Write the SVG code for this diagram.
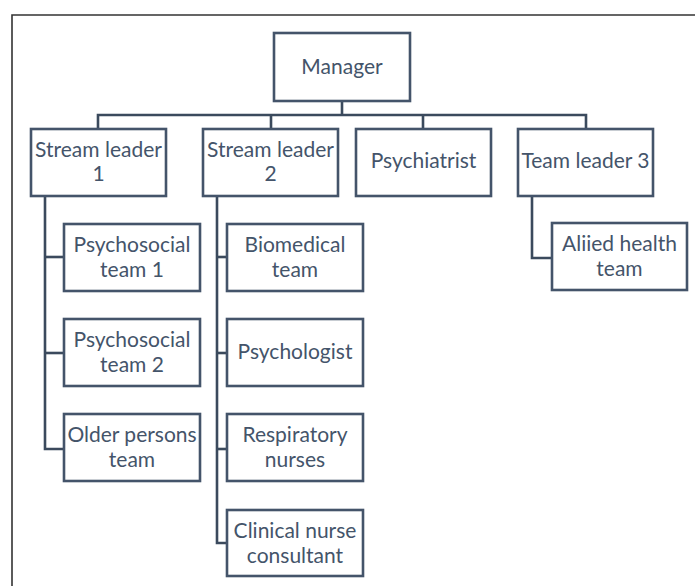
<svg xmlns="http://www.w3.org/2000/svg" width="695" height="586" viewBox="0 0 695 586">
  <style>
    .box { fill: #ffffff; stroke: #44546a; stroke-width: 2.6; }
    .lbl { font-family: Lato, "Open Sans", sans-serif; font-size: 21px; fill: #44546a; text-anchor: middle; }
    .wire { fill: none; stroke: #3b4a5d; stroke-width: 2.6; }
    .frame { fill: none; stroke: #333333; stroke-width: 1.6; }
  </style>
  <rect width="695" height="586" fill="#ffffff"/>
  <!-- page frame (top and left edges only) -->
  <path class="frame" d="M695,15 H12 V586"/>

  <g id="connectors">
    <!-- manager to bus -->
    <path class="wire" d="M342,101 V115"/>
    <path class="wire" d="M98,129 V115 H586 V129"/>
    <path class="wire" d="M271,115 V129"/>
    <path class="wire" d="M423,115 V129"/>
    <!-- stream leader 1 branch -->
    <path class="wire" d="M45,196 V449 H64"/>
    <path class="wire" d="M45,257 H64"/>
    <path class="wire" d="M45,353 H64"/>
    <!-- stream leader 2 branch -->
    <path class="wire" d="M217,196 V543 H227"/>
    <path class="wire" d="M217,257 H227"/>
    <path class="wire" d="M217,353 H227"/>
    <path class="wire" d="M217,449 H227"/>
    <!-- team leader 3 branch -->
    <path class="wire" d="M532,196 V258 H552"/>
  </g>

  <g id="manager">
    <rect class="box" x="274" y="33" width="136" height="68"/>
    <text class="lbl" x="342" y="74">Manager</text>
  </g>
  <g id="stream-leader-1">
    <rect class="box" x="31" y="129" width="135" height="67"/>
    <text class="lbl" x="98.5" y="157">Stream leader</text>
    <text class="lbl" x="98.5" y="181">1</text>
  </g>
  <g id="stream-leader-2">
    <rect class="box" x="203" y="129" width="135" height="67"/>
    <text class="lbl" x="270.5" y="157">Stream leader</text>
    <text class="lbl" x="270.5" y="181">2</text>
  </g>
  <g id="psychiatrist">
    <rect class="box" x="356" y="129" width="135" height="67"/>
    <text class="lbl" x="423.5" y="168">Psychiatrist</text>
  </g>
  <g id="team-leader-3">
    <rect class="box" x="518" y="129" width="135" height="67"/>
    <text class="lbl" x="585.5" y="168">Team leader 3</text>
  </g>

  <g id="psychosocial-team-1">
    <rect class="box" x="64" y="224" width="136" height="67"/>
    <text class="lbl" x="132" y="252">Psychosocial</text>
    <text class="lbl" x="132" y="277">team 1</text>
  </g>
  <g id="psychosocial-team-2">
    <rect class="box" x="64" y="319" width="136" height="67"/>
    <text class="lbl" x="132" y="347">Psychosocial</text>
    <text class="lbl" x="132" y="372">team 2</text>
  </g>
  <g id="older-persons-team">
    <rect class="box" x="64" y="414" width="136" height="67"/>
    <text class="lbl" x="132" y="442">Older persons</text>
    <text class="lbl" x="132" y="467">team</text>
  </g>

  <g id="biomedical-team">
    <rect class="box" x="227" y="224" width="136" height="67"/>
    <text class="lbl" x="295" y="252">Biomedical</text>
    <text class="lbl" x="295" y="277">team</text>
  </g>
  <g id="psychologist">
    <rect class="box" x="227" y="319" width="136" height="67"/>
    <text class="lbl" x="295" y="359">Psychologist</text>
  </g>
  <g id="respiratory-nurses">
    <rect class="box" x="227" y="414" width="136" height="67"/>
    <text class="lbl" x="295" y="442">Respiratory</text>
    <text class="lbl" x="295" y="467">nurses</text>
  </g>
  <g id="clinical-nurse-consultant">
    <rect class="box" x="227" y="510" width="136" height="66"/>
    <text class="lbl" x="295" y="538">Clinical nurse</text>
    <text class="lbl" x="295" y="563">consultant</text>
  </g>

  <g id="allied-health-team">
    <rect class="box" x="552" y="223" width="135" height="67"/>
    <text class="lbl" x="619.5" y="251">Aliied health</text>
    <text class="lbl" x="619.5" y="276">team</text>
  </g>
</svg>
